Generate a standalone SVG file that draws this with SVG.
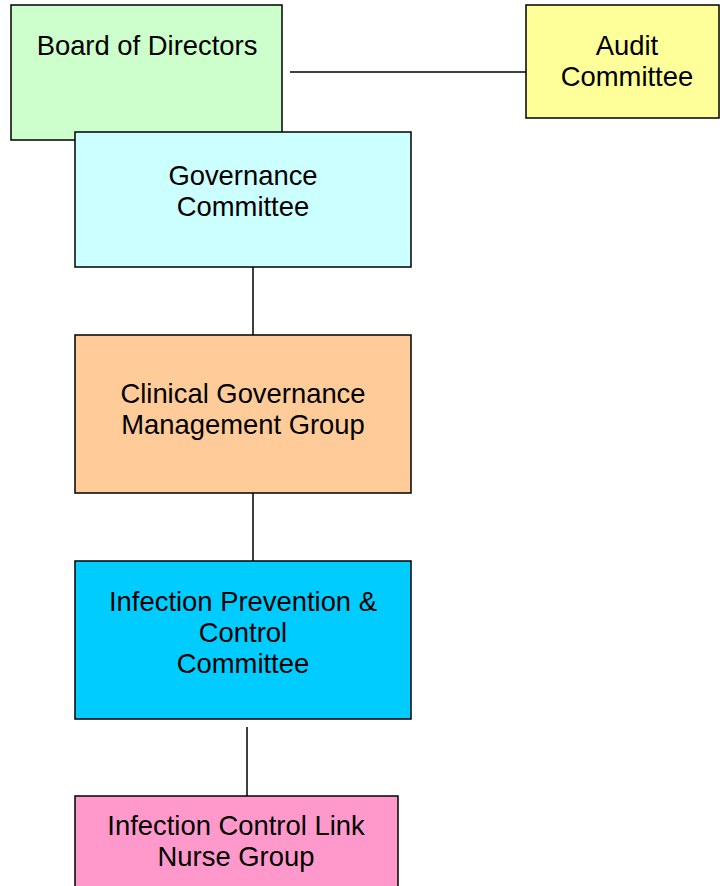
<svg xmlns="http://www.w3.org/2000/svg" width="720" height="886" viewBox="0 0 720 886">
<style>
.box{stroke:#000;stroke-width:1.5}
.lbl{font-family:"Liberation Sans",Arial,sans-serif;font-size:27.4px;fill:#000;text-anchor:middle}
.conn{stroke:#000;stroke-width:1.5;fill:none}
</style>
<rect width="720" height="886" fill="#fff"/>
<g id="connectors">
<line class="conn" x1="290" y1="72" x2="526" y2="72"/>
<line class="conn" x1="253" y1="267" x2="253" y2="335"/>
<line class="conn" x1="253" y1="493" x2="253" y2="561"/>
<line class="conn" x1="247" y1="727" x2="247" y2="796"/>
</g>
<g id="board">
<rect class="box" x="11" y="5" width="271" height="135" fill="#CCFFCC"/>
<text class="lbl" x="147" y="55">Board of Directors</text>
</g>
<g id="audit">
<rect class="box" x="526" y="5" width="193" height="113" fill="#FFFF99"/>
<text class="lbl" x="627" y="55">Audit</text>
<text class="lbl" x="627" y="86">Committee</text>
</g>
<g id="governance">
<rect class="box" x="75" y="132" width="336" height="135" fill="#CCFFFF"/>
<text class="lbl" x="243" y="185">Governance</text>
<text class="lbl" x="243" y="216">Committee</text>
</g>
<g id="cgmg">
<rect class="box" x="75" y="335" width="336" height="158" fill="#FFCC99"/>
<text class="lbl" x="243" y="403">Clinical Governance</text>
<text class="lbl" x="243" y="434">Management Group</text>
</g>
<g id="ipc">
<rect class="box" x="75" y="561" width="336" height="158" fill="#00CCFF"/>
<text class="lbl" x="243" y="611">Infection Prevention &amp;</text>
<text class="lbl" x="243" y="642">Control</text>
<text class="lbl" x="243" y="673">Committee</text>
</g>
<g id="linknurse">
<rect class="box" x="75" y="796" width="323" height="100" fill="#FF99CC"/>
<text class="lbl" x="236" y="835">Infection Control Link</text>
<text class="lbl" x="236" y="866">Nurse Group</text>
</g>
</svg>
